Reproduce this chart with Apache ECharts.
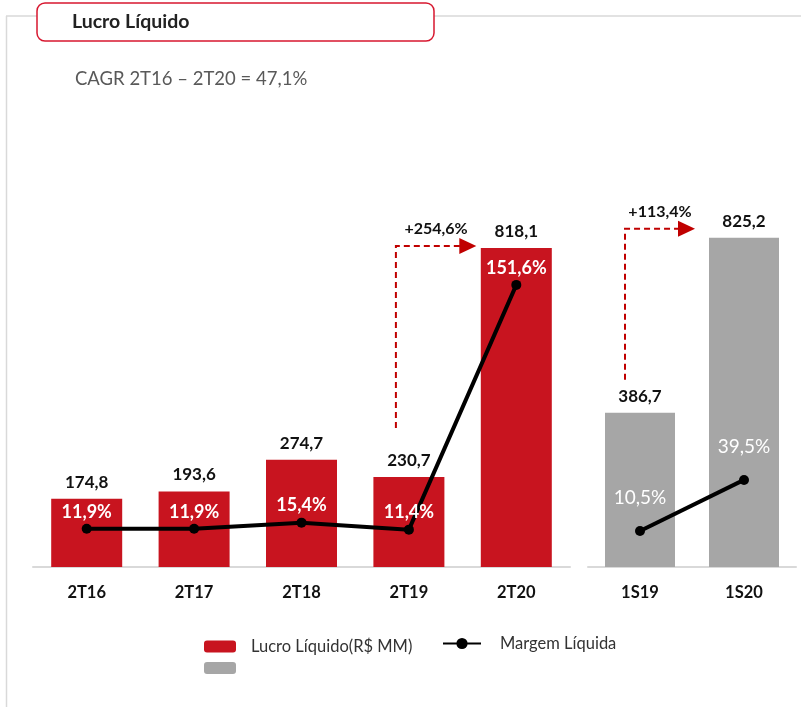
<!DOCTYPE html>
<html>
  <head>
    <meta charset="utf-8" />
    <title>Lucro Líquido</title>
    <script src="https://cdn.jsdelivr.net/npm/echarts@6/dist/echarts.min.js"></script>
    <style>
      html, body { margin: 0; padding: 0; background: #fff; }
    </style>
  </head>
  <body>
    <div id="main" style="width: 801px; height: 707px"></div>
    <script type="text/javascript">
      // dados
      var quarters = ["2T16", "2T17", "2T18", "2T19", "2T20"];
      var quarterProfit = [174.8, 193.6, 274.7, 230.7, 818.1];
      var quarterMargin = [11.9, 11.9, 15.4, 11.4, 151.6];

      var semesters = ["1S19", "1S20"];
      var semesterProfit = [386.7, 825.2];
      var semesterMargin = [10.5, 39.5];

      var growthQuarter = "+254,6%";
      var growthSemester = "+113,4%";

      var RED = "#C8141F";
      var GRAY = "#A6A6A6";
      var FONT = "Lato, 'Noto Sans', sans-serif";

      function fmt(v) {
        return v.toFixed(1).replace(".", ",");
      }

      var myChart = echarts.init(document.getElementById("main"), null, {
        renderer: "canvas",
      });

      var axisLine = { show: true, lineStyle: { color: "#d9d9d9", width: 2 } };
      var catLabel = { color: "#111", fontWeight: "bold", fontSize: 16.5, fontFamily: FONT, margin: 17 };

      var option = {
        animation: false,
        textStyle: { fontFamily: FONT },
        grid: [
          { left: 33, top: 177, width: 537, height: 390 },
          { left: 588, top: 168, width: 208, height: 399 },
        ],
        xAxis: [
          { type: "category", gridIndex: 0, data: quarters, axisLine: axisLine, axisTick: { show: false }, axisLabel: catLabel },
          { type: "category", gridIndex: 1, data: semesters, axisLine: axisLine, axisTick: { show: false }, axisLabel: catLabel },
        ],
        yAxis: [
          { type: "value", gridIndex: 0, min: 0, max: 1000, show: false },
          { type: "value", gridIndex: 0, min: -10, max: 213.4, show: false },
          { type: "value", gridIndex: 1, min: 0, max: 1000, show: false },
          { type: "value", gridIndex: 1, min: -10, max: 216.8, show: false },
        ],
        legend: [
          {
            orient: "vertical",
            left: 199,
            top: 633,
            itemWidth: 32,
            itemHeight: 12,
            itemGap: 7,
            icon: "roundRect",
            data: ["Lucro Líquido(R$ MM)", "Lucro Semestral"],
            formatter: function (name) {
              return name === "Lucro Semestral" ? "" : name;
            },
            textStyle: { fontSize: 16.5, color: "#333", padding: [0, 0, 0, 10] },
            selectedMode: false,
          },
          {
            left: 437,
            top: 630,
            itemWidth: 38,
            itemHeight: 14,
            data: ["Margem Líquida"],
            textStyle: { fontSize: 16.5, color: "#333", padding: [6, 0, 0, 14] },
            selectedMode: false,
          },
        ],
        series: [
          {
            name: "Lucro Líquido(R$ MM)",
            type: "bar",
            xAxisIndex: 0,
            yAxisIndex: 0,
            barWidth: 71,
            data: quarterProfit,
            itemStyle: { color: RED },
            label: {
              show: true,
              position: "top",
              distance: 8,
              color: "#111",
              fontWeight: "bold",
              fontSize: 17,
              formatter: function (p) { return fmt(p.value); },
            },
          },
          {
            name: "Margem Líquida",
            type: "line",
            xAxisIndex: 0,
            yAxisIndex: 1,
            data: quarterMargin,
            symbol: "circle",
            symbolSize: 10,
            z: 5,
            itemStyle: { color: "#000" },
            lineStyle: { color: "#000", width: 4 },
            label: {
              show: true,
              position: "top",
              distance: 3,
              color: "#fff",
              fontWeight: "bold",
              fontSize: 18,
              formatter: function (p) { return fmt(p.value) + "%"; },
            },
          },
          {
            name: "Lucro Semestral",
            type: "bar",
            xAxisIndex: 1,
            yAxisIndex: 2,
            barWidth: 70,
            data: semesterProfit,
            itemStyle: { color: GRAY },
            label: {
              show: true,
              position: "top",
              distance: 8,
              color: "#111",
              fontWeight: "bold",
              fontSize: 17,
              formatter: function (p) { return fmt(p.value); },
            },
          },
          {
            name: "Margem Líquida",
            type: "line",
            xAxisIndex: 1,
            yAxisIndex: 3,
            data: semesterMargin,
            symbol: "circle",
            symbolSize: 10,
            z: 5,
            itemStyle: { color: "#000" },
            lineStyle: { color: "#000", width: 4 },
            label: {
              show: true,
              position: "top",
              distance: 19,
              color: "#fff",
              fontSize: 19,
              formatter: function (p) { return fmt(p.value) + "%"; },
            },
          },
        ],
      };
      myChart.setOption(option);

      // setas de crescimento, ancoradas nas barras
      function px(x, y, cat, val) {
        return myChart.convertToPixel({ xAxisIndex: x, yAxisIndex: y }, [cat, val]);
      }
      function arrow(x0, yBottom, yTop, xTip, text) {
        var dash = { stroke: "#C00000", lineWidth: 2, lineDash: [6, 4] };
        return [
          { type: "polyline", shape: { points: [[x0, yBottom], [x0, yTop], [xTip - 16, yTop]] }, style: dash, z: 10 },
          { type: "polygon", shape: { points: [[xTip - 17, yTop - 8], [xTip, yTop], [xTip - 17, yTop + 8]] }, style: { fill: "#C00000" }, z: 10 },
          {
            type: "text",
            x: (x0 + xTip) / 2,
            y: yTop - 17,
            style: { text: text, fill: "#111", font: "bold 16px " + FONT, align: "center", verticalAlign: "middle" },
            z: 10,
          },
        ];
      }

      var a19 = px(0, 0, quarters[3], quarterProfit[3]);
      var a20 = px(0, 0, quarters[4], quarterProfit[4]);
      var s19 = px(1, 2, semesters[0], semesterProfit[0]);
      var s20 = px(1, 2, semesters[1], semesterProfit[1]);

      var graphics = [
        { type: "line", shape: { x1: 6, y1: 16, x2: 801, y2: 16 }, style: { stroke: "#d9d9d9", lineWidth: 1.5 } },
        { type: "line", shape: { x1: 6.5, y1: 16, x2: 6.5, y2: 707 }, style: { stroke: "#d9d9d9", lineWidth: 1.5 } },
        {
          type: "rect",
          shape: { x: 37, y: 3, width: 397, height: 38, r: 8 },
          style: { fill: "#fff", stroke: "#D7172F", lineWidth: 1.5 },
          z: 5,
        },
        {
          type: "text",
          x: 72,
          y: 22,
          style: { text: "Lucro Líquido", fill: "#222", font: "bold 19.5px " + FONT, verticalAlign: "middle" },
          z: 6,
        },
        {
          type: "text",
          x: 75,
          y: 79,
          style: { text: "CAGR 2T16 – 2T20 = 47,1%", fill: "#595959", font: "18.5px " + FONT, verticalAlign: "middle" },
        },
      ]
        .concat(arrow(a19[0] - 13, a19[1] - 49, a20[1] - 2, a20[0] - 40, growthQuarter))
        .concat(arrow(s19[0] - 15, s19[1] - 33, s20[1] - 9, s20[0] - 49, growthSemester));

      myChart.setOption({ graphic: graphics });
    </script>
  </body>
</html>
